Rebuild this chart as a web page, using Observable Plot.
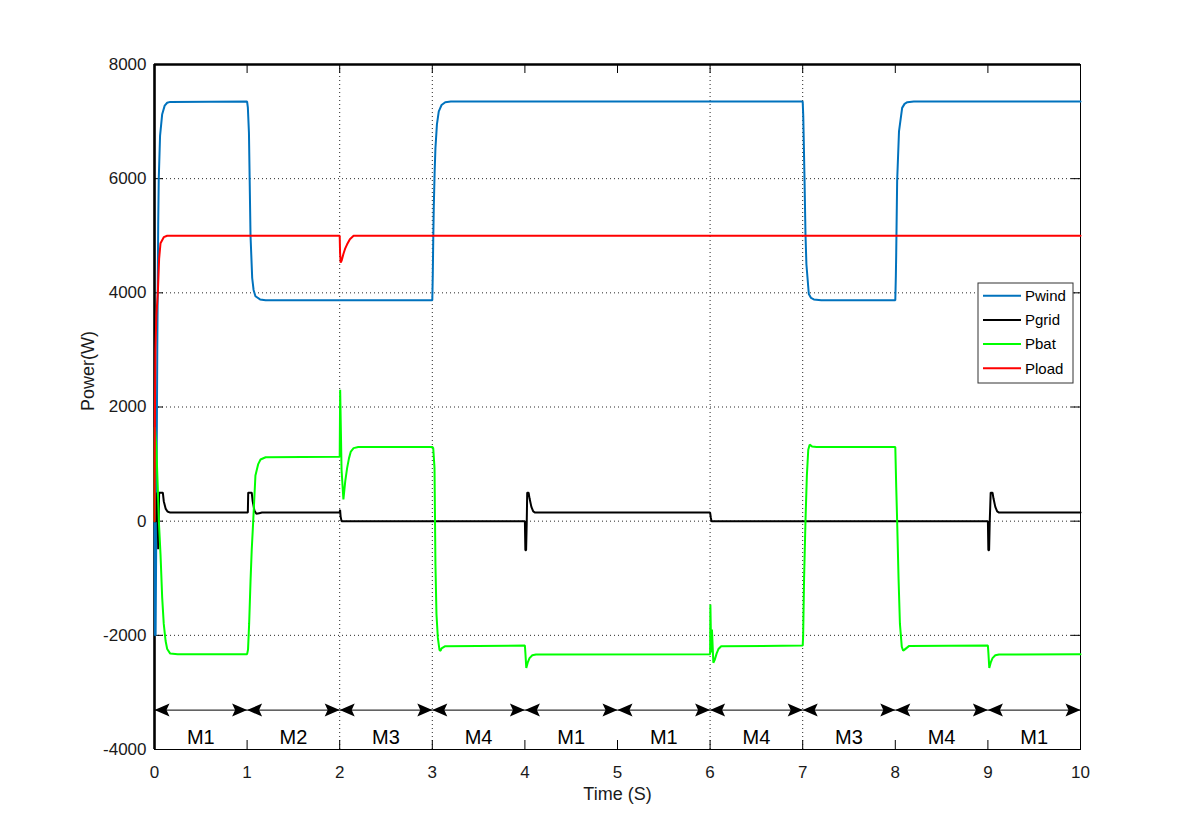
<!DOCTYPE html>
<html>
<head>
<meta charset="utf-8">
<script src="https://cdn.jsdelivr.net/npm/d3@7"></script>
<script src="https://cdn.jsdelivr.net/npm/@observablehq/plot@0.6"></script>
<style>
  html, body { margin: 0; padding: 0; background: #fff; }
  #chart { width: 1191px; height: 839px; }
</style>
</head>
<body>
<div id="chart"></div>
<script>
// ---------- data ----------
const xTicks = [0, 1, 2, 3, 4, 5, 6, 7, 8, 9, 10];
const yTicks = [-4000, -2000, 0, 2000, 4000, 6000, 8000];
const gridY = [-2000, 0, 2000, 4000, 6000];
const gridX = [2, 3, 6, 7];

const seriesNames = ["Pwind", "Pgrid", "Pbat", "Pload"];
const seriesColors = ["#0072BD", "#000000", "#00FF00", "#FF0000"];

// [time (s), power (W)]
const pwind = [
  [0, 0], [0.005, -2000], [0.012, -2000], [0.02, 0], [0.03, 3000], [0.04, 5200],
  [0.046, 6000], [0.06, 6750], [0.083, 7130], [0.11, 7280], [0.137, 7330], [0.17, 7345],
  [1.0, 7350], [1.008, 7250], [1.02, 6800], [1.037, 5000], [1.055, 4260], [1.07, 4050],
  [1.09, 3940], [1.14, 3885], [1.2, 3870],
  [3.0, 3870], [3.005, 4300], [3.01, 4900], [3.016, 5500], [3.025, 6100], [3.034, 6540],
  [3.05, 6950], [3.07, 7180], [3.1, 7290], [3.14, 7340], [3.2, 7350],
  [7.0, 7350], [7.006, 7100], [7.02, 5960], [7.03, 5030], [7.04, 4500], [7.066, 3980],
  [7.09, 3910], [7.12, 3885], [7.2, 3870],
  [8.0, 3870], [8.006, 4300], [8.01, 4700], [8.02, 5960], [8.04, 6830], [8.074, 7240],
  [8.1, 7310], [8.13, 7340], [8.2, 7350], [10, 7350]
];

const pgrid = [
  [0, 0], [0.02, 0], [0.03, 500], [0.04, -490], [0.05, 500], [0.09, 500], [0.1, 350],
  [0.12, 220], [0.14, 170], [0.17, 150],
  [1.008, 150], [1.012, 500], [1.05, 500], [1.06, 350], [1.08, 180], [1.1, 130],
  [1.13, 140], [1.16, 150],
  [2.0, 150], [2.004, 200], [2.01, 80], [2.02, 0],
  [4.0, 0], [4.005, -510], [4.013, -510], [4.02, 0], [4.025, 500], [4.04, 500],
  [4.05, 400], [4.07, 250], [4.09, 170], [4.11, 150],
  [6.0, 150], [6.008, 60], [6.015, 0],
  [9.0, 0], [9.005, -510], [9.013, -510], [9.02, 0], [9.03, 500], [9.05, 500],
  [9.06, 400], [9.08, 250], [9.1, 170], [9.12, 150], [10, 150]
];

const pbat = [
  [0, 0], [0.004, 1650], [0.02, 1300], [0.035, 600], [0.047, 0], [0.065, -580],
  [0.083, -1340], [0.1, -1800], [0.12, -2100], [0.137, -2240], [0.17, -2320], [0.25, -2330],
  [1.0, -2330], [1.01, -2250], [1.022, -1800], [1.037, -1050], [1.05, -500], [1.066, 0],
  [1.09, 800], [1.12, 1000], [1.145, 1080], [1.2, 1120],
  [2.0, 1130], [2.005, 2300], [2.02, 900], [2.04, 380], [2.06, 700], [2.08, 930],
  [2.1, 1100], [2.12, 1220], [2.15, 1280], [2.2, 1300],
  [3.0, 1300], [3.01, 1280], [3.024, 930], [3.034, -760], [3.045, -1630], [3.06, -2045],
  [3.078, -2260], [3.09, -2270], [3.1, -2230], [3.14, -2190],
  [4.0, -2180], [4.005, -2300], [4.015, -2570], [4.03, -2480], [4.05, -2400],
  [4.08, -2350], [4.12, -2335],
  [6.0, -2330], [6.003, -1460], [6.012, -2300], [6.02, -1900], [6.035, -2480],
  [6.05, -2430], [6.07, -2320], [6.09, -2240], [6.12, -2190],
  [7.0, -2180], [7.005, -2000], [7.015, -1000], [7.03, 0], [7.045, 800], [7.06, 1250],
  [7.075, 1340], [7.1, 1310], [7.15, 1300],
  [8.0, 1300], [8.01, 600], [8.02, 0], [8.035, -1000], [8.05, -1800], [8.07, -2200],
  [8.085, -2270], [8.1, -2250], [8.15, -2185],
  [9.0, -2180], [9.005, -2300], [9.015, -2570], [9.03, -2480], [9.05, -2400],
  [9.08, -2350], [9.12, -2335], [10, -2330]
];

const pload = [
  [0, 0], [0.004, 1800], [0.01, 3000], [0.02, 3600], [0.036, 4000], [0.05, 4600],
  [0.065, 4870], [0.1, 4975], [0.137, 5000],
  [2.0, 5000], [2.004, 4700], [2.01, 4530], [2.02, 4560], [2.04, 4680], [2.06, 4780],
  [2.08, 4850], [2.11, 4940], [2.15, 5000], [10, 5000]
];

const modeLabels = ["M1", "M2", "M3", "M4", "M1", "M1", "M4", "M3", "M4", "M1"];
const modeStarts = [0, 1, 2, 3, 4, 5, 6, 7, 8, 9];
const modeEnds = [1, 2, 3, 4, 5, 6, 7, 8, 9, 10];
const modeArrowLevel = -3310;   // W
const modeLabelLevel = -3800;   // W

// ---------- build tables ----------
const seriesData = [pwind, pgrid, pbat, pload];
const lines = seriesData.map((arr, i) =>
  arr.map(([t, p]) => ({t, p, name: seriesNames[i]}))
);
const modes = modeLabels.map((label, i) => ({label, start: modeStarts[i], end: modeEnds[i]}));

// arrow heads (filled, slightly notched)
const headRight = {draw(ctx) { ctx.moveTo(0, 0); ctx.lineTo(-15, -6.5); ctx.lineTo(-12, 0); ctx.lineTo(-15, 6.5); ctx.closePath(); }};
const headLeft  = {draw(ctx) { ctx.moveTo(0, 0); ctx.lineTo(15, -6.5); ctx.lineTo(12, 0); ctx.lineTo(15, 6.5); ctx.closePath(); }};

const W = 1191, H = 839;
const mL = 154, mR = 111, mT = 64, mB = 90;
const innerW = W - mL - mR, innerH = H - mT - mB;
const font = "'Liberation Sans', Arial, Helvetica, sans-serif";
const tickLen = 9;

const plot = Plot.plot({
  width: W,
  height: H,
  marginLeft: mL,
  marginRight: mR,
  marginTop: mT,
  marginBottom: mB,
  style: {fontFamily: font, fontSize: "17px", color: "#1a1a1a", background: "#fff", overflow: "visible"},
  x: {domain: [0, 10], label: null},
  y: {domain: [-4000, 8000], label: null},
  marks: [
    // dotted grid
    Plot.ruleY(gridY, {y: d => d, stroke: "#000", strokeWidth: 1, strokeDasharray: "1,3", strokeOpacity: 0.85}),
    Plot.ruleX(gridX, {x: d => d, stroke: "#000", strokeWidth: 1, strokeDasharray: "1,3", strokeOpacity: 0.85}),
    // frame
    Plot.frame({stroke: "#000", strokeWidth: 1}),
    Plot.ruleX([0], {x: d => d, stroke: "#000", strokeWidth: 2.6}),
    Plot.ruleY([8000], {y: d => d, stroke: "#000", strokeWidth: 2.4}),
    // inner ticks on all four sides
    Plot.tickX(xTicks, {x: d => d, insetTop: innerH - tickLen, stroke: "#000"}),
    Plot.tickX(xTicks, {x: d => d, insetBottom: innerH - tickLen, stroke: "#000"}),
    Plot.tickY(yTicks, {y: d => d, insetRight: innerW - tickLen, stroke: "#000"}),
    Plot.tickY(yTicks, {y: d => d, insetLeft: innerW - tickLen, stroke: "#000"}),
    // series (legend order: wind, grid, bat, load)
    ...lines.map((data, i) =>
      Plot.line(data, {x: "t", y: "p", stroke: seriesColors[i], strokeWidth: 2, strokeLinejoin: "miter"})
    ),
    // operating mode arrows
    Plot.link(modes, {x1: "start", x2: "end", y1: () => modeArrowLevel, y2: () => modeArrowLevel, stroke: "#000", strokeWidth: 1}),
    Plot.dot(modes, {x: "start", y: () => modeArrowLevel, symbol: headLeft, r: 6, fill: "#000", stroke: null}),
    Plot.dot(modes, {x: "end", y: () => modeArrowLevel, symbol: headRight, r: 6, fill: "#000", stroke: null}),
    Plot.text(modes, {x: d => (d.start + d.end) / 2, y: () => modeLabelLevel, text: "label", fontSize: 20, fill: "#000"}),
    // axes
    Plot.axisX(xTicks, {tickSize: 0, tickPadding: 16, fontSize: 17, label: null, tickFormat: d => String(d)}),
    Plot.axisY(yTicks, {tickSize: 0, tickPadding: 8, fontSize: 17, label: null, tickFormat: d => String(d)}),
    Plot.text(["Time (S)"], {frameAnchor: "bottom", dy: 50, text: d => d, fontSize: 18, fill: "#1a1a1a"}),
    Plot.text(["Power(W)"], {frameAnchor: "left", dx: -66, dy: 4, rotate: -90, text: d => d, fontSize: 18, fill: "#1a1a1a"})
  ]
});

// legend box inside the plot, upper right area
const svg = d3.select(plot);
const lg = svg.append("g").attr("transform", `translate(${W - mR - 102},${mT + 219})`)
  .attr("text-anchor", "start");
lg.append("rect").attr("width", 95).attr("height", 100).attr("fill", "#fff").attr("stroke", "#333").attr("stroke-width", 1);
seriesNames.forEach((name, i) => {
  const yy = 12.7 + i * 24.2;
  lg.append("line").attr("x1", 5).attr("x2", 43).attr("y1", yy).attr("y2", yy)
    .attr("stroke", seriesColors[i]).attr("stroke-width", 2);
  lg.append("text").attr("x", 47).attr("y", yy).attr("dy", "0.35em")
    .attr("text-anchor", "start")
    .attr("fill", "#000").style("font-size", "15px").style("font-family", font).text(name);
});

document.getElementById("chart").appendChild(plot);
</script>
</body>
</html>
